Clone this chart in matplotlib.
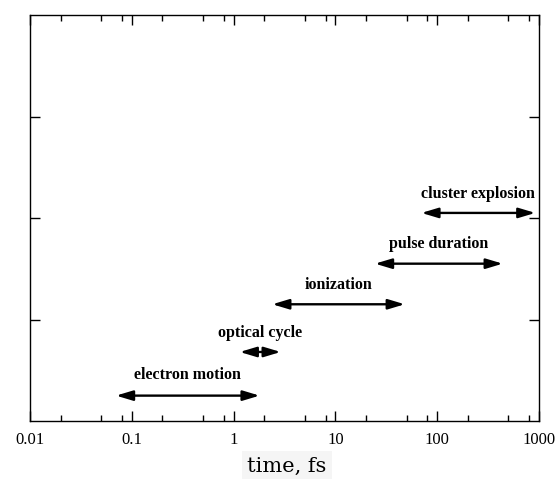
import matplotlib
matplotlib.use("Agg")
import matplotlib.pyplot as plt
from matplotlib.ticker import NullFormatter, FixedLocator

labels = ["electron motion", "optical cycle", "ionization", "pulse duration", "cluster explosion"]
starts = [0.07, 1.15, 2.4, 24.5, 70]
ends = [1.8, 2.9, 48, 440, 920]
levels = [0.25, 0.68, 1.15, 1.55, 2.05]
label_levels = [0.45, 0.87, 1.34, 1.74, 2.24]
xticks = [0.01, 0.1, 1, 10, 100, 1000]
xticklabels = ["0.01", "0.1", "1", "10", "100", "1000"]

fig = plt.figure(figsize=(5.59, 4.79), dpi=100)
ax = fig.add_axes([30/559, 58/479, 509/559, 406/479])
ax.set_xscale("log")
ax.set_xlim(0.01, 1000)
ax.set_ylim(0, 4)

for lab, s, e, y, ly in zip(labels, starts, ends, levels, label_levels):
    ax.annotate("", xy=(e, y), xytext=(s, y),
                arrowprops=dict(arrowstyle="<|-|>,head_length=1.0,head_width=0.3",
                                lw=1.7, color="black", shrinkA=0, shrinkB=0))
    xc = (s * e) ** 0.5
    ax.text(xc, ly, lab, ha="center", va="center", family="Liberation Serif",
            fontweight="bold", fontsize=11.5)

ax.set_xticks(xticks)
ax.set_xticklabels(xticklabels, family="Liberation Serif", fontsize=12)
minor = []
for d in [0.01, 0.1, 1, 10, 100]:
    for m in (2, 5, 8):
        minor.append(d * m)
ax.xaxis.set_minor_locator(FixedLocator(minor))
ax.xaxis.set_minor_formatter(NullFormatter())
ax.set_yticks([1, 2, 3])
ax.set_yticklabels([])
ax.tick_params(which="major", direction="in", length=7, width=1, top=True, right=True, pad=8)
ax.tick_params(which="minor", direction="in", length=4, width=1, top=True, right=True)
for sp in ax.spines.values():
    sp.set_linewidth(1.0)

fig.text(287/559, 1 - 466/479, "time, fs", ha="center", va="center",
         family="DejaVu Serif", fontsize=15,
         bbox=dict(facecolor="#f5f5f5", edgecolor="none", pad=4))

fig.savefig("out.png", dpi=100)
